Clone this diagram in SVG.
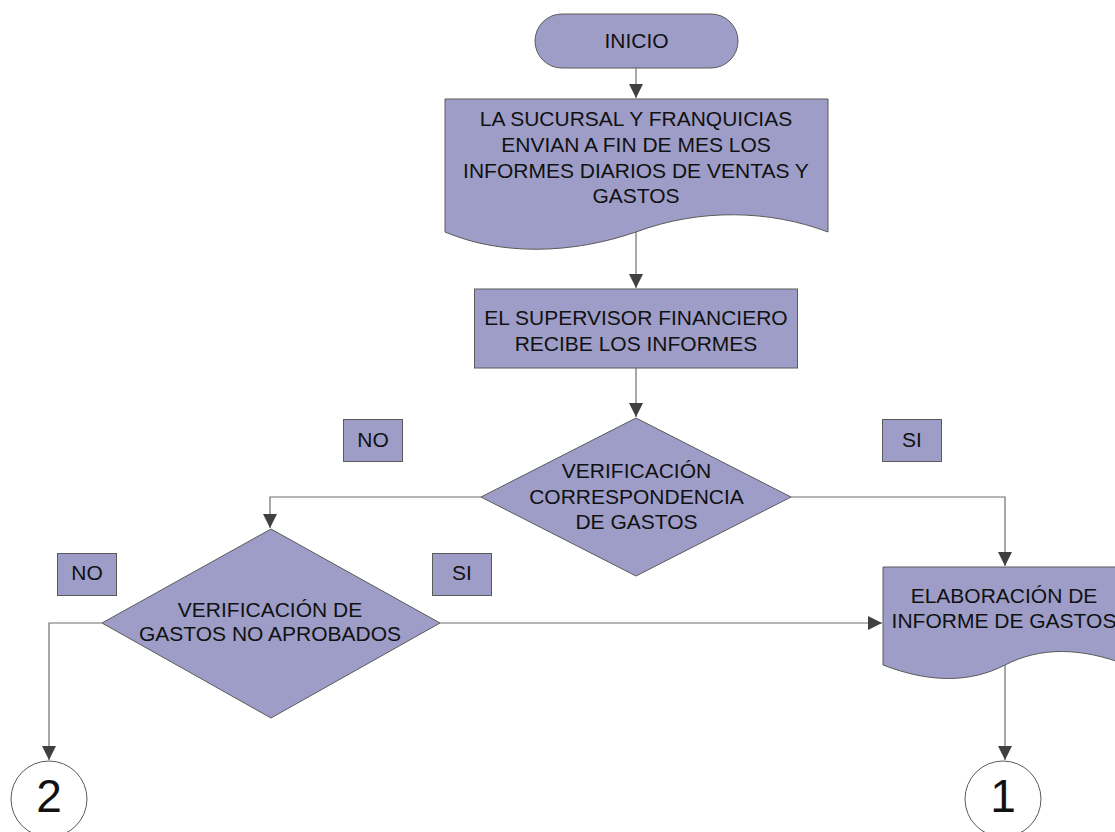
<svg xmlns="http://www.w3.org/2000/svg" width="1115" height="832" viewBox="0 0 1115 832">
  <style>
    .shape { fill: #9d9dc8; stroke: #5a5a5a; stroke-width: 1; }
    .conn { fill: none; stroke: #6e6e6e; stroke-width: 1.2; }
    .txt { font-family: "Liberation Sans", Arial, sans-serif; font-size: 21px; fill: #111; text-anchor: middle; }
    .num { font-family: "Liberation Sans", Arial, sans-serif; font-size: 46px; fill: #111; text-anchor: middle; }
    .circ { fill: #ffffff; stroke: #5a5a5a; stroke-width: 1; }
  </style>
  <defs>
    <marker id="arrow" markerUnits="userSpaceOnUse" markerWidth="14" markerHeight="14" viewBox="0 0 14 14" refX="14" refY="7" orient="auto">
      <path d="M0,0 L14,7 L0,14 Z" fill="#404040"/>
    </marker>
  </defs>
  <rect width="1115" height="832" fill="#ffffff"/>

  <!-- connectors -->
  <g id="connectors">
    <path class="conn" d="M636,68 V98" marker-end="url(#arrow)"/>
    <path class="conn" d="M636,232 V288" marker-end="url(#arrow)"/>
    <path class="conn" d="M636,368 V417" marker-end="url(#arrow)"/>
    <path class="conn" d="M481,497 H270 V528" marker-end="url(#arrow)"/>
    <path class="conn" d="M791,497 H1005 V566" marker-end="url(#arrow)"/>
    <path class="conn" d="M440,623 H882" marker-end="url(#arrow)"/>
    <path class="conn" d="M102,623 H49 V760" marker-end="url(#arrow)"/>
    <path class="conn" d="M1005,665 V760" marker-end="url(#arrow)"/>
  </g>

  <!-- start terminator -->
  <g id="inicio">
    <rect class="shape" x="535" y="14" width="203" height="54" rx="27" ry="27"/>
    <text class="txt" x="636.5" y="48">INICIO</text>
  </g>

  <!-- document: monthly reports -->
  <g id="envio-informes">
    <path class="shape" d="M445,99 H828 V232 C770,210 700,208 636,232 C572,254 502,256 445,232 Z"/>
    <text class="txt" x="636" y="126">LA SUCURSAL Y FRANQUICIAS</text>
    <text class="txt" x="636" y="152">ENVIAN A FIN DE MES LOS</text>
    <text class="txt" x="636" y="177.5">INFORMES DIARIOS DE VENTAS Y</text>
    <text class="txt" x="636" y="203">GASTOS</text>
  </g>

  <!-- process: supervisor -->
  <g id="supervisor">
    <rect class="shape" x="474.5" y="289" width="323" height="79"/>
    <text class="txt" x="636" y="325">EL SUPERVISOR FINANCIERO</text>
    <text class="txt" x="636" y="351">RECIBE LOS INFORMES</text>
  </g>

  <!-- decision 1 -->
  <g id="verif-correspondencia">
    <polygon class="shape" points="636,418 791,497 636,576 481,497"/>
    <text class="txt" x="636.5" y="478">VERIFICACIÓN</text>
    <text class="txt" x="636.5" y="504">CORRESPONDENCIA</text>
    <text class="txt" x="636.5" y="529">DE GASTOS</text>
  </g>

  <g id="label-no-1">
    <rect class="shape" x="343.5" y="419.5" width="59" height="42"/>
    <text class="txt" x="373" y="447">NO</text>
  </g>
  <g id="label-si-1">
    <rect class="shape" x="882.5" y="419.5" width="59" height="42"/>
    <text class="txt" x="912" y="447">SI</text>
  </g>

  <!-- decision 2 -->
  <g id="verif-no-aprobados">
    <polygon class="shape" points="271,529 440,623 271,718 102,623"/>
    <text class="txt" x="270" y="617">VERIFICACIÓN DE</text>
    <text class="txt" x="270" y="641">GASTOS NO APROBADOS</text>
  </g>

  <g id="label-no-2">
    <rect class="shape" x="57.5" y="553.5" width="59" height="42"/>
    <text class="txt" x="87" y="580">NO</text>
  </g>
  <g id="label-si-2">
    <rect class="shape" x="432.5" y="553.5" width="59" height="42"/>
    <text class="txt" x="462" y="580">SI</text>
  </g>

  <!-- document: expense report -->
  <g id="informe-gastos">
    <path class="shape" d="M883,567 H1127 V665 C1080,647 1040,647 1005,665 C970,683 930,683 883,665 Z"/>
    <text class="txt" x="1004" y="603">ELABORACIÓN DE</text>
    <text class="txt" x="1004" y="628">INFORME DE GASTOS</text>
  </g>

  <!-- off-page connectors -->
  <g id="conector-2">
    <circle class="circ" cx="49" cy="799" r="38"/>
    <text class="num" x="49" y="812">2</text>
  </g>
  <g id="conector-1">
    <circle class="circ" cx="1003" cy="799" r="38"/>
    <text class="num" x="1003" y="812">1</text>
  </g>
</svg>
